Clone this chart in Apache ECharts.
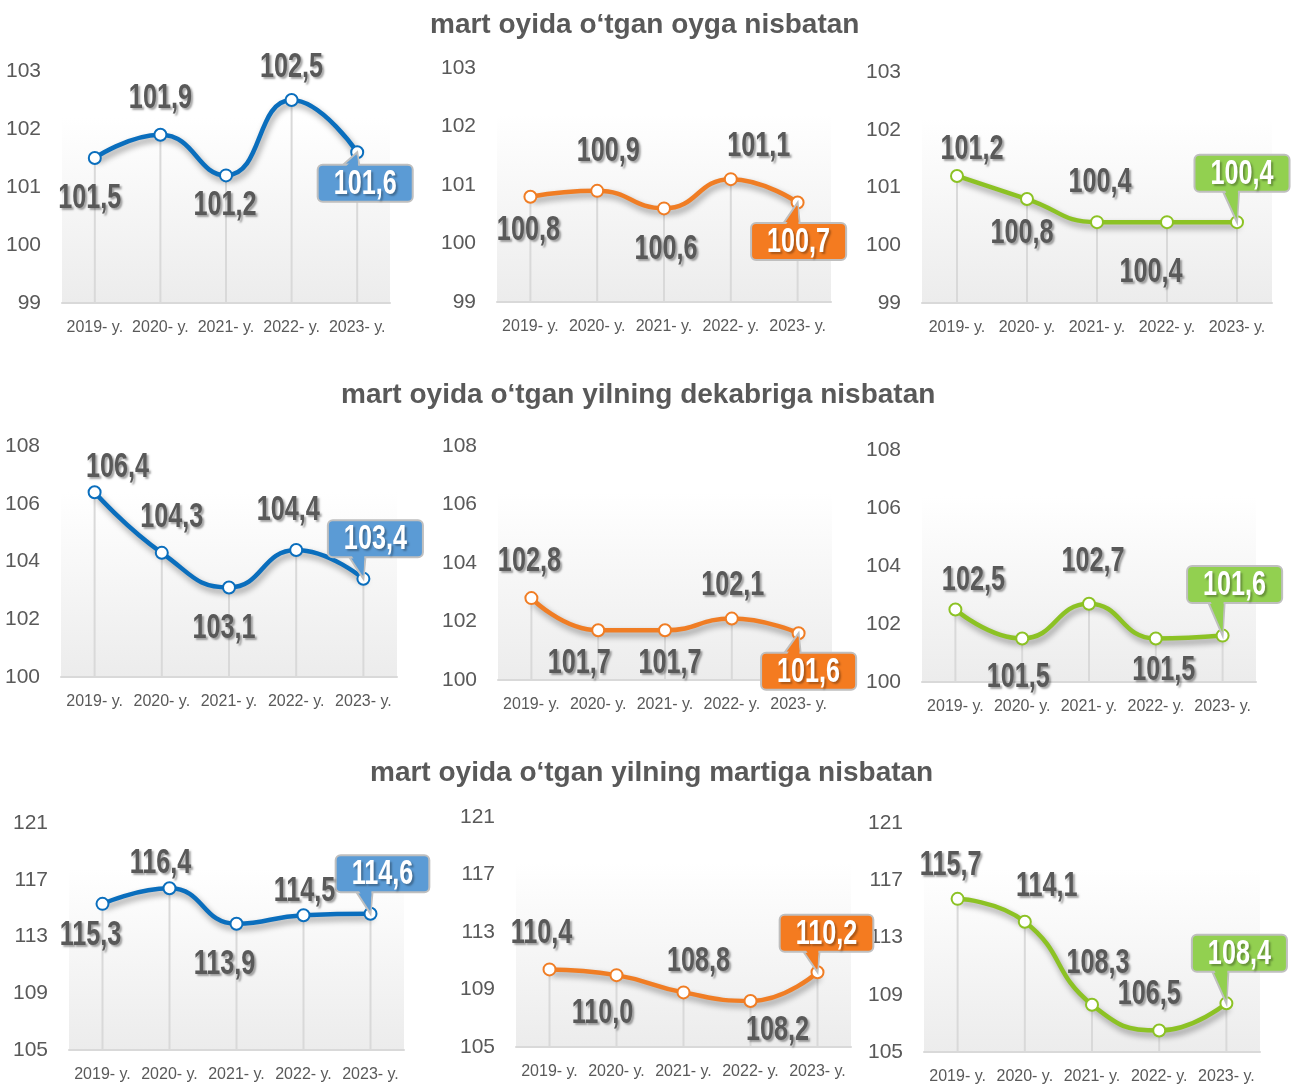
<!DOCTYPE html>
<html>
<head>
<meta charset="utf-8">
<title>mart oyida</title>
<script src="https://cdn.jsdelivr.net/npm/echarts@6/dist/echarts.min.js"></script>
<style>
  html, body { margin: 0; padding: 0; background: #fff; }
  #main { width: 1296px; height: 1085px; }
</style>
</head>
<body>
<div id="main"></div>
<script>
// categories
const years = ['2019- y.', '2020- y.', '2021- y.', '2022- y.', '2023- y.'];

// mart oyida o'tgan oyga nisbatan
const momBlue = [101.5, 101.9, 101.2, 102.5, 101.6];
const momOrange = [100.8, 100.9, 100.6, 101.1, 100.7];
const momGreen = [101.2, 100.8, 100.4, 100.4, 100.4];

// mart oyida o'tgan yilning dekabriga nisbatan
const decBlue = [106.4, 104.3, 103.1, 104.4, 103.4];
const decOrange = [102.8, 101.7, 101.7, 102.1, 101.6];
const decGreen = [102.5, 101.5, 102.7, 101.5, 101.6];

// mart oyida o'tgan yilning martiga nisbatan
const yoyBlue = [115.3, 116.4, 113.9, 114.5, 114.6];
const yoyOrange = [110.4, 110.0, 108.8, 108.2, 110.2];
const yoyGreen = [115.7, 114.1, 108.3, 106.5, 108.4];

// y tick labels per row
const ticksRow1 = [99, 100, 101, 102, 103];
const ticksRow2 = [100, 102, 104, 106, 108];
const ticksRow3 = [105, 109, 113, 117, 121];

const titles = [
  'mart oyida o\u2018tgan oyga nisbatan',
  'mart oyida o\u2018tgan yilning dekabriga nisbatan',
  'mart oyida o\u2018tgan yilning martiga nisbatan'
];

const colors = {
  blue: { line: '#0a6ebd', box: '#5b9bd5' },
  orange: { line: '#f07d24', box: '#f47b20' },
  green: { line: '#8cc224', box: '#92d050' }
};

// layout: grid box + label offsets (label centre relative to its point)
const panels = [
  { data: momBlue, ticks: ticksRow1, c: 'blue', left: 62, top: 71, width: 328, height: 232,
    off: [[-5, 39], [0, -37], [-1, 29], [0, -34], [8, 31]] },
  { data: momOrange, ticks: ticksRow1, c: 'orange', left: 497, top: 68, width: 334, height: 234,
    off: [[-2, 33], [11, -41], [2, 40], [28, -34], [1, 39]] },
  { data: momGreen, ticks: ticksRow1, c: 'green', left: 922, top: 72, width: 350, height: 231,
    off: [[15, -28], [-5, 33], [3, -41], [-16, 49], [5, -49]] },
  { data: decBlue, ticks: ticksRow2, c: 'blue', left: 61, top: 446, width: 336, height: 231,
    off: [[23, -26], [10, -36], [-5, 40], [-8, -41], [12, -40]] },
  { data: decOrange, ticks: ticksRow2, c: 'orange', left: 498, top: 446, width: 334, height: 234,
    off: [[-2, -38], [-19, 32], [5, 32], [1, -34], [10, 38]] },
  { data: decGreen, ticks: ticksRow2, c: 'green', left: 922, top: 450, width: 334, height: 232,
    off: [[18, -30], [-4, 38], [4, -43], [8, 31], [12, -51]] },
  { data: yoyBlue, ticks: ticksRow3, c: 'blue', left: 69, top: 823, width: 335, height: 227,
    off: [[-12, 30], [-9, -26], [-12, 40], [1, -25], [12, -40]] },
  { data: yoyOrange, ticks: ticksRow3, c: 'orange', left: 516, top: 817, width: 335, height: 230,
    off: [[-8, -37], [-14, 37], [15, -32], [27, 28], [9, -39]] },
  { data: yoyGreen, ticks: ticksRow3, c: 'green', left: 924, top: 823, width: 336, height: 230,
    off: [[-7, -35], [22, -36], [6, -42], [-10, -37], [13, -50]] }
];

const labelFont = "bold 35px 'Liberation Sans', Arial, sans-serif";
const squeeze = 0.72; // narrow the bold label font horizontally
const axisFont = "'Liberation Sans', Arial, sans-serif";
const fmt = v => v.toFixed(1).replace('.', ',');

const measureCtx = document.createElement('canvas').getContext('2d');
measureCtx.font = labelFont;
const textW = s => measureCtx.measureText(s).width * squeeze;

function labelText(str, fill, shadow) {
  return {
    type: 'text', scaleX: squeeze, z2: 10,
    style: {
      text: str, font: labelFont, fill: fill,
      align: 'center', verticalAlign: 'middle',
      textShadowColor: shadow, textShadowBlur: 2, textShadowOffsetX: 2, textShadowOffsetY: 2
    }
  };
}

const grid = [], xAxis = [], yAxis = [], series = [];

panels.forEach((p, i) => {
  const col = colors[p.c];
  const last = p.data.length - 1;

  grid.push({
    left: p.left, top: p.top, width: p.width, height: p.height,
    show: true, borderWidth: 0,
    backgroundColor: new echarts.graphic.LinearGradient(0, 0, 0, 1, [
      { offset: 0, color: '#ffffff' },
      { offset: 0.2, color: '#ffffff' },
      { offset: 1, color: '#ececec' }
    ])
  });
  xAxis.push({
    type: 'category', gridIndex: i, data: years,
    axisLine: { lineStyle: { color: '#d9d9d9', width: 2 } },
    axisTick: { show: false },
    axisLabel: { color: '#595959', fontSize: 16, fontFamily: axisFont, margin: 17, interval: 0 }
  });
  yAxis.push({
    type: 'value', gridIndex: i,
    min: p.ticks[0], max: p.ticks[p.ticks.length - 1],
    axisLine: { show: false },
    axisTick: { show: false },
    splitLine: { show: false },
    axisLabel: { color: '#595959', fontSize: 21, fontFamily: axisFont, margin: 21, customValues: p.ticks }
  });

  // drop lines from each point to the axis
  series.push({
    type: 'bar', xAxisIndex: i, yAxisIndex: i, data: p.data,
    barWidth: 2, silent: true, z: 1,
    itemStyle: { color: '#d9d9d9' }
  });

  series.push({
    type: 'line', xAxisIndex: i, yAxisIndex: i, z: 3,
    data: p.data, smooth: true,
    symbol: 'circle', symbolSize: 12,
    lineStyle: {
      color: col.line, width: 4.5,
      shadowColor: 'rgba(0,0,0,0.4)', shadowBlur: 6, shadowOffsetX: 2, shadowOffsetY: 4
    },
    itemStyle: { color: '#ffffff', borderColor: col.line, borderWidth: 2 }
  });

  // value labels; the last one sits in a callout box
  series.push({
    type: 'custom', xAxisIndex: i, yAxisIndex: i, z: 5, clip: false, silent: true,
    data: p.data.map((v, k) => [k, v]),
    renderItem: (params, api) => {
      const k = params.dataIndex;
      const v = api.value(1);
      const pt = api.coord([api.value(0), v]);
      const [dx, dy] = p.off[k];
      const str = fmt(v);
      if (k !== last) {
        const t = labelText(str, '#595959', 'rgba(0,0,0,0.35)');
        t.x = pt[0] + dx; t.y = pt[1] + dy + 1;
        return t;
      }
      const w = textW(str) + 32, h = 37;
      const above = dy < 0;
      const edge = above ? h / 2 : -h / 2;
      const inner = above ? h / 2 - 3 : -h / 2 + 3;
      const clampX = x => Math.max(-w / 2 + 8, Math.min(w / 2 - 8, x));
      const bx1 = clampX(-dx - 14), bx2 = clampX(-dx + 2);
      const tip = [-dx, -dy];
      const t = labelText(str, '#ffffff', 'rgba(0,0,0,0.3)');
      t.y = 1;
      return {
        type: 'group', x: pt[0] + dx, y: pt[1] + dy,
        children: [
          { type: 'polygon', shape: { points: [[bx1, edge], tip, [bx2, edge]] },
            style: { fill: col.box, stroke: '#bfbfbf', lineWidth: 2 } },
          { type: 'rect', shape: { x: -w / 2, y: -h / 2, width: w, height: h, r: 5 },
            style: { fill: col.box, stroke: '#bfbfbf', lineWidth: 2 } },
          { type: 'polygon', shape: { points: [[bx1 + 1.5, inner], [tip[0], tip[1] - (above ? 3 : -3)], [bx2 - 1, inner]] },
            style: { fill: col.box } },
          t
        ]
      };
    }
  });
});

const title = titles.map((t, r) => ({
  text: t, left: [425, 336, 365][r], top: [6, 376, 754][r],
  textStyle: { color: '#595959', fontSize: 28, fontWeight: 'bold', fontFamily: axisFont }
}));

const chart = echarts.init(document.getElementById('main'));
chart.setOption({
  animation: false,
  backgroundColor: '#ffffff',
  title, grid, xAxis, yAxis, series
});
</script>
</body>
</html>
